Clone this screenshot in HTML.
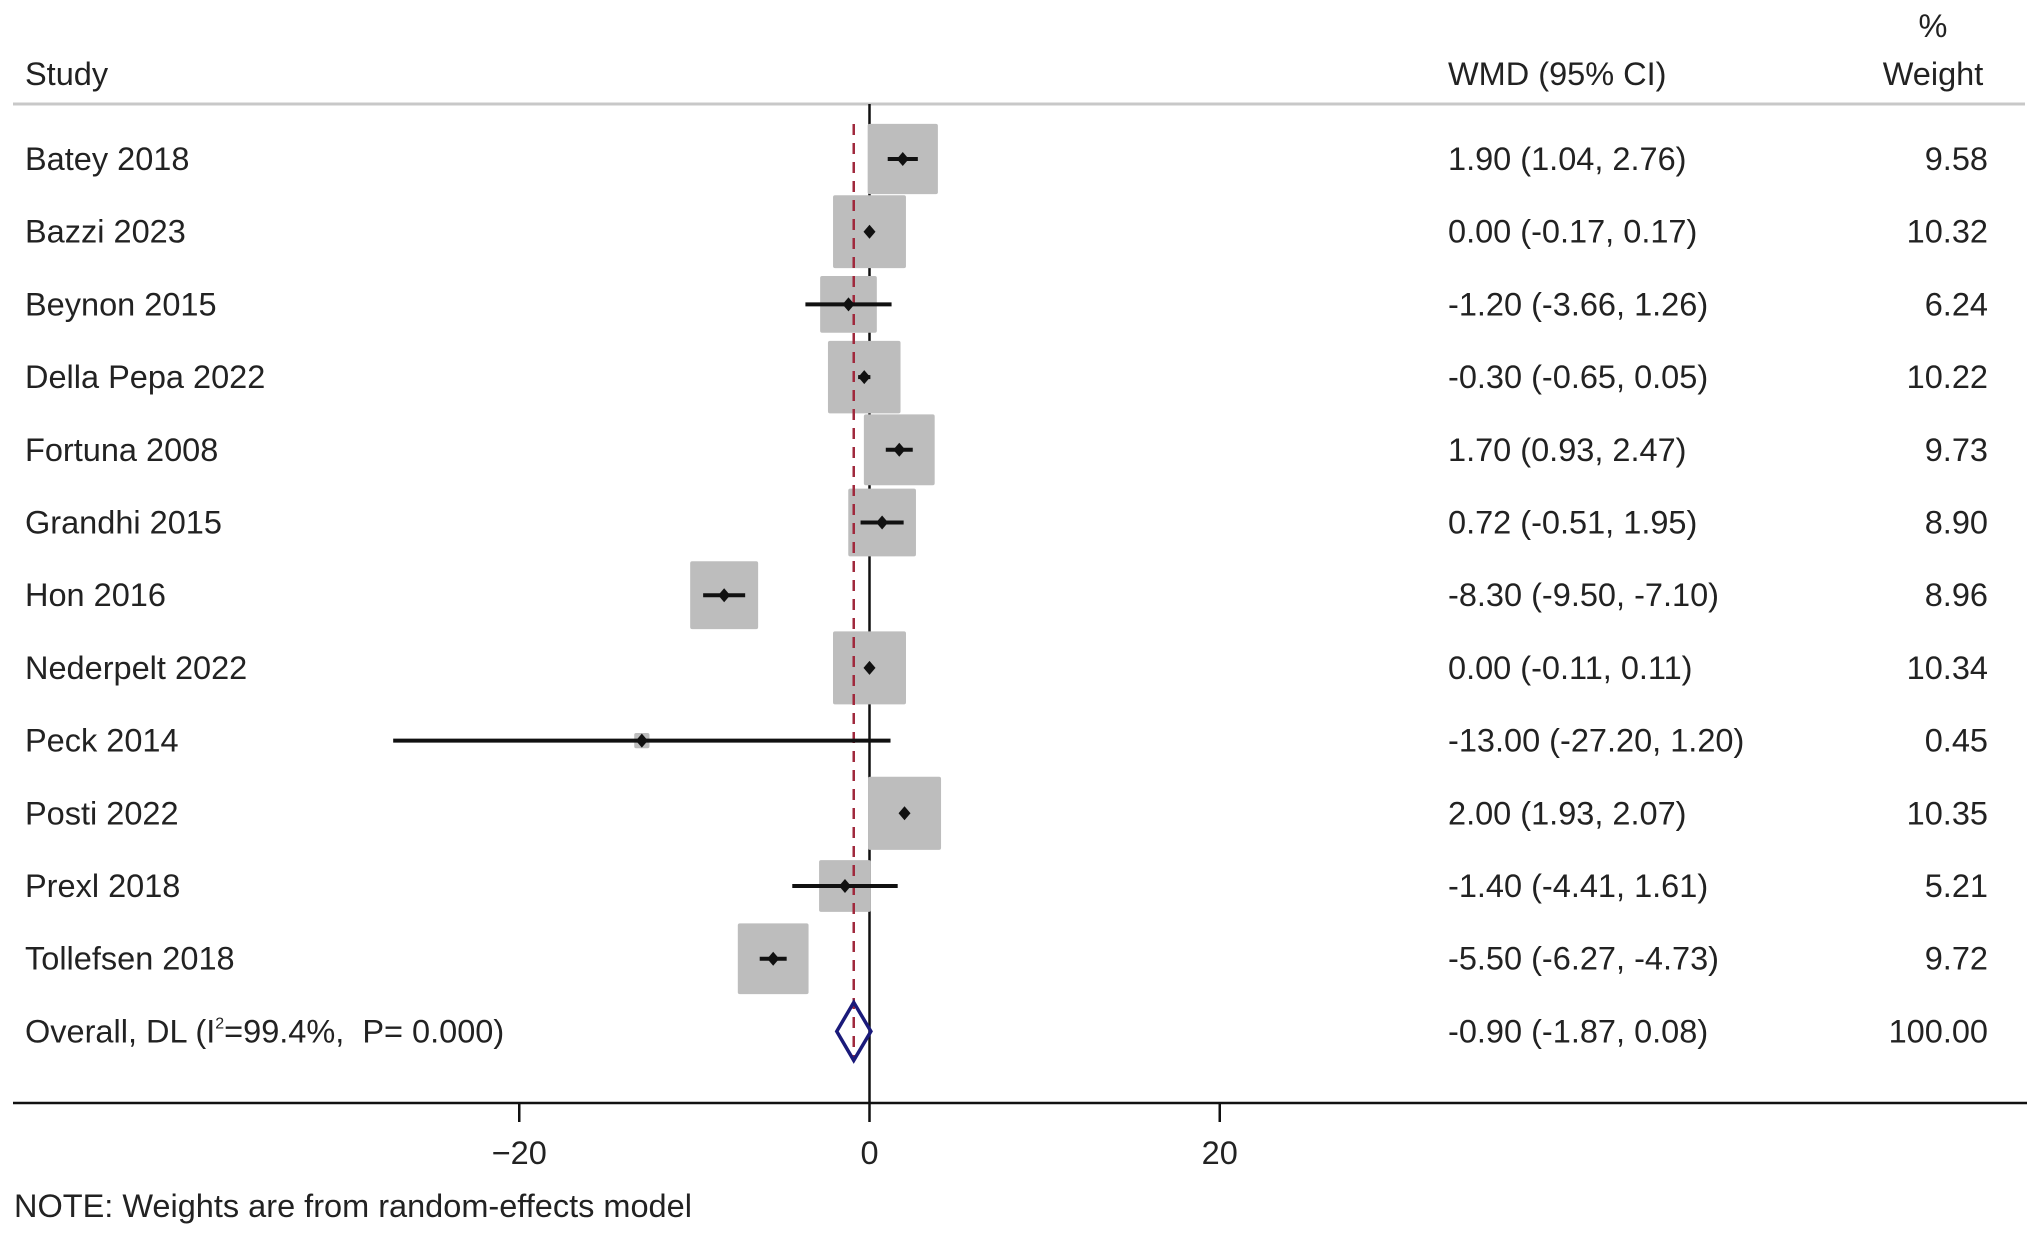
<!DOCTYPE html>
<html><head><meta charset="utf-8"><style>
body{margin:0;background:#fff;}
svg text{font-family:"Liberation Sans",Arial,sans-serif;font-size:32.5px;fill:#222;}
</style></head><body>
<svg id="c" width="2031" height="1233" viewBox="0 0 2031 1233" xmlns="http://www.w3.org/2000/svg">
<text x="25" y="85">Study</text>
<text x="1448" y="85">WMD (95% CI)</text>
<text x="1933" y="37" text-anchor="middle">%</text>
<text x="1933" y="85" text-anchor="middle">Weight</text>
<line x1="13" y1="104" x2="2025" y2="104" stroke="#c8c8c8" stroke-width="3"/>
<g id="marks"></g>
<line x1="13" y1="1103" x2="2027" y2="1103" stroke="#111" stroke-width="2.5"/>
<g id="ticks"></g>
<text x="14" y="1217">NOTE: Weights are from random-effects model</text>
</svg>
<script>
const studies=["Batey 2018","Bazzi 2023","Beynon 2015","Della Pepa 2022","Fortuna 2008","Grandhi 2015","Hon 2016","Nederpelt 2022","Peck 2014","Posti 2022","Prexl 2018","Tollefsen 2018"];
const est=[1.90,0.00,-1.20,-0.30,1.70,0.72,-8.30,0.00,-13.00,2.00,-1.40,-5.50];
const lo=[1.04,-0.17,-3.66,-0.65,0.93,-0.51,-9.50,-0.11,-27.20,1.93,-4.41,-6.27];
const hi=[2.76,0.17,1.26,0.05,2.47,1.95,-7.10,0.11,1.20,2.07,1.61,-4.73];
const weights=[9.58,10.32,6.24,10.22,9.73,8.90,8.96,10.34,0.45,10.35,5.21,9.72];
const overall=[-0.90,-1.87,0.08,100.00];
const ticks=[-20,0,20];
const tickLabels=["\u221220","0","20"];
const NS="http://www.w3.org/2000/svg";
const X=v=>869.5+v*13.45*1.302;
const Y=i=>159+i*72.7;
const fmt=v=>v.toFixed(2);
const g=document.getElementById('marks');
function mk(t,a,p){const e=document.createElementNS(NS,t);for(const k in a)e.setAttribute(k,a[k]);(p||g).appendChild(e);return e;}
const yOv=Y(studies.length);
let z=mk('line',{x1:X(0),y1:104,x2:X(0),y2:1103,stroke:'#111','stroke-width':2.5});


studies.forEach((s,i)=>{
  const y=Y(i),sd=22.7*Math.sqrt(weights[i]);
  let b=mk('rect',{x:X(est[i])-sd/2,y:y-sd/2,width:sd,height:sd,fill:'#bdbdbd',rx:2});
  
  
});
let d=mk('line',{x1:X(overall[0]),y1:124,x2:X(overall[0]),y2:1062,stroke:'#a0283c','stroke-width':2.5,'stroke-dasharray':'11,8'});


studies.forEach((s,i)=>{
  const y=Y(i);
  let l=mk('line',{x1:X(lo[i]),y1:y,x2:X(hi[i]),y2:y,stroke:'#111','stroke-width':4});
  
  
  const cx=X(est[i]);
  let p=mk('path',{d:`M${cx-6} ${y}L${cx} ${y-7}L${cx+6} ${y}L${cx} ${y+7}Z`,fill:'#111'});
  
  
  let t=mk('text',{x:25,y:y+11});t.textContent=s;
  
  
  let w=mk('text',{x:1448,y:y+11});w.textContent=`${fmt(est[i])} (${fmt(lo[i])}, ${fmt(hi[i])})`;
  
  
  let q=mk('text',{x:1988,y:y+11,'text-anchor':'end'});q.textContent=fmt(weights[i]);
  
  
});
let dm=mk('path',{d:`M${X(overall[1])} ${yOv}L${X(overall[0])} ${yOv-29}L${X(overall[2])} ${yOv}L${X(overall[0])} ${yOv+29}Z`,fill:'none',stroke:'#1a1a7a','stroke-width':3.5});


let ol=mk('text',{x:25,y:yOv+11});
ol.innerHTML='Overall, DL (I<tspan dy="-14" font-size="16">2</tspan><tspan dy="14">=99.4%,&#160; P= 0.000)</tspan>';


let ow=mk('text',{x:1448,y:yOv+11});ow.textContent=`${fmt(overall[0])} (${fmt(overall[1])}, ${fmt(overall[2])})`;


let oq=mk('text',{x:1988,y:yOv+11,'text-anchor':'end'});oq.textContent=fmt(overall[3]);


const tg=document.getElementById('ticks');
ticks.forEach((v,i)=>{
  let tl=mk('line',{x1:X(v),y1:1103,x2:X(v),y2:1122,stroke:'#111','stroke-width':2.5},tg);
  
  
  let tt=mk('text',{x:X(v),y:1164,'text-anchor':'middle'},tg);tt.textContent=tickLabels[i];
  
  
});
</script>
</body></html>
